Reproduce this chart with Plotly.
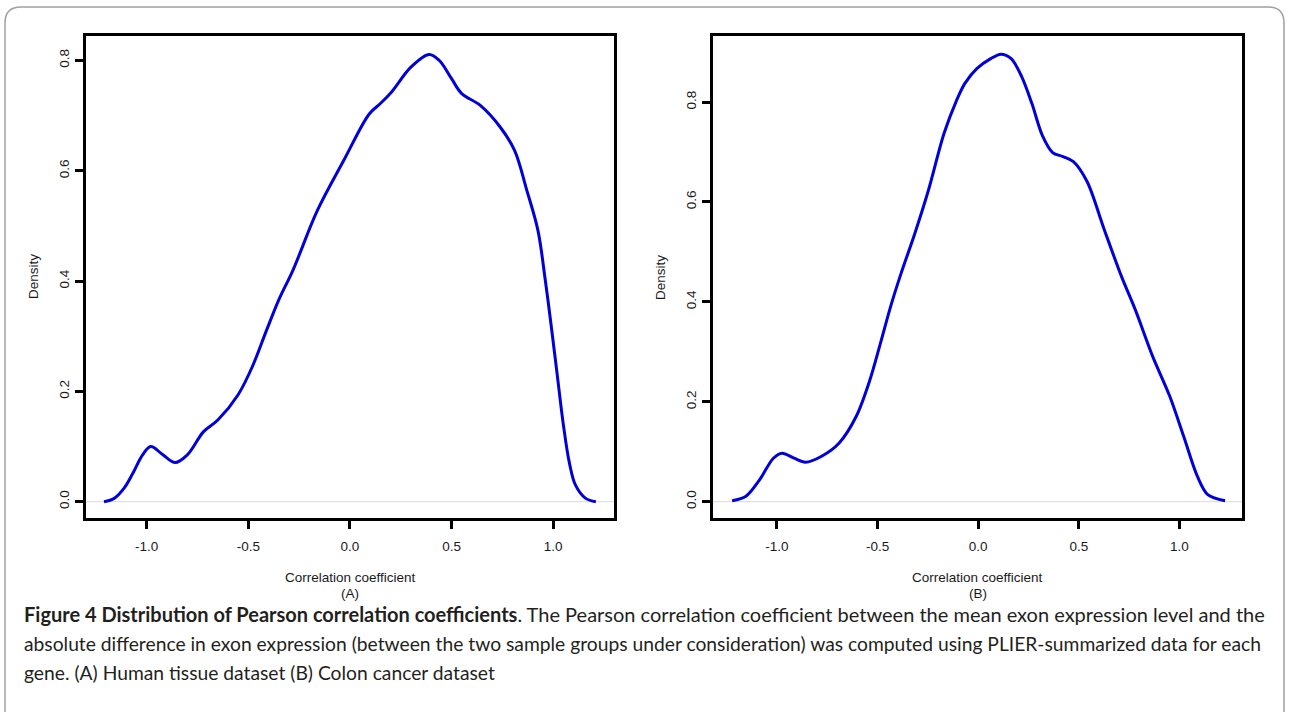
import plotly.graph_objects as go

W, H = 1289, 712

# ---------------- data ----------------
xa = [-1.21, -1.16, -1.11, -1.07, -1.02, -0.98, -0.92, -0.86, -0.80, -0.72, -0.65,
      -0.55, -0.48, -0.41, -0.35, -0.28, -0.16, -0.03, 0.095, 0.15, 0.205, 0.30,
      0.39, 0.44, 0.50, 0.55, 0.64, 0.74, 0.81, 0.87, 0.925, 0.96, 0.99, 1.02,
      1.05, 1.08, 1.11, 1.16, 1.21]
ya = [0.0, 0.006, 0.025, 0.05, 0.085, 0.100, 0.085, 0.071, 0.085, 0.127, 0.148,
      0.194, 0.245, 0.311, 0.366, 0.42, 0.528, 0.619, 0.703, 0.722, 0.743, 0.788,
      0.811, 0.800, 0.767, 0.740, 0.719, 0.679, 0.637, 0.565, 0.492, 0.405, 0.32,
      0.23, 0.14, 0.07, 0.03, 0.006, 0.0]

xb = [-1.223, -1.154, -1.086, -1.018, -0.975, -0.915, -0.858, -0.778, -0.692,
      -0.606, -0.538, -0.486, -0.435, -0.385, -0.315, -0.247, -0.170, -0.110,
      -0.067, -0.007, 0.062, 0.113, 0.164, 0.216, 0.267, 0.318, 0.370, 0.421,
      0.473, 0.541, 0.627, 0.712, 0.781, 0.867, 0.952, 1.021, 1.089, 1.141, 1.227]
yb = [0.002, 0.011, 0.044, 0.087, 0.097, 0.087, 0.079, 0.091, 0.117, 0.171,
      0.244, 0.317, 0.391, 0.455, 0.537, 0.624, 0.737, 0.801, 0.837, 0.867,
      0.887, 0.896, 0.887, 0.851, 0.797, 0.734, 0.699, 0.691, 0.681, 0.641,
      0.544, 0.451, 0.384, 0.291, 0.211, 0.131, 0.051, 0.014, 0.002]

x_ticks = [-1.0, -0.5, 0.0, 0.5, 1.0]
x_ticktext = ["-1.0", "-0.5", "0.0", "0.5", "1.0"]
y_ticks = [0.0, 0.2, 0.4, 0.6, 0.8]
y_ticktext = ["0.0", "0.2", "0.4", "0.6", "0.8"]

x_title = "Correlation coefficient"
y_title = "Density"
panel_labels = ["(A)", "(B)"]
caption_lines = [
    "<b>Figure 4 Distribution of Pearson correlation coefficients</b>. The Pearson correlation coefficient between the mean exon expression level and the",
    "absolute difference in exon expression (between the two sample groups under consideration) was computed using PLIER-summarized data for each",
    "gene. (A) Human tissue dataset (B) Colon cancer dataset",
]
caption_sizes = [20.0, 19.25, 19.25]

# ---------------- helpers for layout placement ----------------
def px(x):
    return x / W

def py(y):
    return 1 - y / H

LINE = "#0000d8"
AXFONT = dict(family="Liberation Sans, Arial, sans-serif", size=13.5, color="#1a1a1a")

fig = go.Figure()
fig.add_trace(go.Scatter(x=xa, y=ya, mode="lines", xaxis="x", yaxis="y",
                         line=dict(color=LINE, width=3, shape="spline", smoothing=1.0),
                         showlegend=False, hoverinfo="skip"))
fig.add_trace(go.Scatter(x=xb, y=yb, mode="lines", xaxis="x2", yaxis="y2",
                         line=dict(color=LINE, width=3, shape="spline", smoothing=0.9),
                         showlegend=False, hoverinfo="skip"))

common_x = dict(tickvals=x_ticks, ticktext=x_ticktext, ticks="outside", ticklen=8,
                tickwidth=2.5, tickcolor="black", showline=True, linewidth=2.5,
                linecolor="black", mirror=True, showgrid=False, zeroline=False,
                tickfont=AXFONT, ticklabelstandoff=6, fixedrange=True)
common_y = dict(tickvals=y_ticks, ticktext=y_ticktext, ticks="outside", ticklen=8,
                tickwidth=2.5, tickcolor="black", showline=True, linewidth=2.5,
                linecolor="black", mirror=True, showgrid=False, zeroline=False,
                tickfont=AXFONT, tickangle=-90, ticklabelstandoff=1, fixedrange=True)

fig.update_layout(
    width=W, height=H,
    margin=dict(l=0, r=0, t=0, b=0),
    paper_bgcolor="white", plot_bgcolor="white",
    xaxis=dict(domain=[px(86), px(614)], range=[-1.2985, 1.2993], anchor="y", **common_x),
    yaxis=dict(domain=[py(518), py(36)], range=[-0.0296, 0.8444], anchor="x", **common_y),
    xaxis2=dict(domain=[px(713), px(1242)], range=[-1.318, 1.311], anchor="y2", **common_x),
    yaxis2=dict(domain=[py(518), py(36)], range=[-0.0327, 0.9323], anchor="x2", **common_y),
)

shapes = []
for xr, yr in (("x domain", "y"), ("x2 domain", "y2")):
    shapes.append(dict(type="line", xref=xr, yref=yr, x0=0, x1=1, y0=0, y1=0,
                       line=dict(color="#d9d9d9", width=1), layer="below"))

# outer rounded frame (open at the bottom, cut by the page edge)
L, R, T, B, r = 5, 1284, 7, 720, 16
path = (f"M {px(L)} {py(B)} L {px(L)} {py(T + r)} Q {px(L)} {py(T)} {px(L + r)} {py(T)} "
        f"L {px(R - r)} {py(T)} Q {px(R)} {py(T)} {px(R)} {py(T + r)} L {px(R)} {py(B)}")
shapes.append(dict(type="path", xref="paper", yref="paper", path=path,
                   line=dict(color="#a0a0a0", width=1.5)))
fig.update_layout(shapes=shapes)

ann = []
for cx, lab in ((350, panel_labels[0]), (977.5, panel_labels[1])):
    ann.append(dict(x=px(cx), y=py(577), xref="paper", yref="paper", text=x_title,
                    showarrow=False, xanchor="center", yanchor="middle", font=AXFONT))
    ann.append(dict(x=px(cx), y=py(593), xref="paper", yref="paper", text=lab,
                    showarrow=False, xanchor="center", yanchor="middle", font=AXFONT))
for cx in (33, 660):
    ann.append(dict(x=px(cx), y=py(277), xref="paper", yref="paper", text=y_title,
                    showarrow=False, xanchor="center", yanchor="middle", textangle=-90,
                    font=AXFONT))
for i, (line, fs) in enumerate(zip(caption_lines, caption_sizes)):
    ann.append(dict(x=px(22), y=py(614 + 29 * i), xref="paper", yref="paper", text=line,
                    showarrow=False, xanchor="left", yanchor="middle", align="left",
                    font=dict(family="Lato, sans-serif", size=fs, color="#231f20")))
fig.update_layout(annotations=ann)

fig.write_html("out.html", config={"displayModeBar": False},
               post_script="document.body.style.margin='0';")
